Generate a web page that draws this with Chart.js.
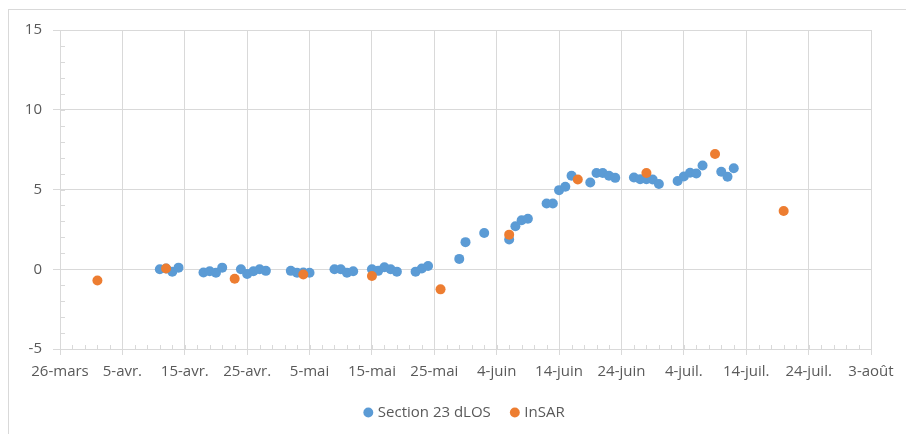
<!DOCTYPE html>
<html>
<head>
<meta charset="utf-8">
<script src="https://cdn.jsdelivr.net/npm/chart.js@4.4.0/dist/chart.umd.min.js"></script>
<style>
  html, body { margin: 0; padding: 0; background: #fff; overflow: hidden; }
  #wrap { position: relative; width: 906px; height: 434px; overflow: hidden; }
  #frame { position: absolute; left: 8px; top: 9px; width: 1000px; height: 1000px;
           border: 1px solid #d9d9d9; box-sizing: border-box; pointer-events: none; }
  canvas { position: absolute; left: 0; top: 0; }
</style>
</head>
<body>
<div id="wrap">
  <div id="frame"></div>
  <canvas id="chart" width="906" height="434"></canvas>
</div>
<script>
// Origin of the time axis (day 0)
const startDate = '2019-03-26';

// Labels every 10 days along the time axis
const tickLabels = ['26-mars', '5-avr.', '15-avr.', '25-avr.', '5-mai', '15-mai', '25-mai',
                    '4-juin', '14-juin', '24-juin', '4-juil.', '14-juil.', '24-juil.', '3-août'];

// Section 23 dLOS measurements
const dlosDates = [
  '2019-04-11', '2019-04-12', '2019-04-13', '2019-04-14',
  '2019-04-18', '2019-04-19', '2019-04-20', '2019-04-21',
  '2019-04-24', '2019-04-25', '2019-04-26', '2019-04-27', '2019-04-28',
  '2019-05-02', '2019-05-03', '2019-05-04', '2019-05-05',
  '2019-05-09', '2019-05-10', '2019-05-11', '2019-05-12',
  '2019-05-15', '2019-05-16', '2019-05-17', '2019-05-18', '2019-05-19',
  '2019-05-22', '2019-05-23', '2019-05-24',
  '2019-05-29', '2019-05-30', '2019-06-02',
  '2019-06-06', '2019-06-07', '2019-06-08', '2019-06-09',
  '2019-06-12', '2019-06-13', '2019-06-14', '2019-06-15', '2019-06-16',
  '2019-06-19', '2019-06-20', '2019-06-21', '2019-06-22', '2019-06-23',
  '2019-06-26', '2019-06-27', '2019-06-28', '2019-06-29', '2019-06-30',
  '2019-07-03', '2019-07-04', '2019-07-05', '2019-07-06', '2019-07-07',
  '2019-07-10', '2019-07-11', '2019-07-12'
];
const dlosValues = [
  0.0, 0.05, -0.15, 0.1,
  -0.2, -0.12, -0.22, 0.1,
  0.0, -0.3, -0.12, 0.0, -0.1,
  -0.1, -0.22, -0.2, -0.22,
  0.0, 0.0, -0.22, -0.12,
  0.0, -0.1, 0.13, 0.0, -0.15,
  -0.15, 0.05, 0.2,
  0.65, 1.7, 2.27,
  1.87, 2.7, 3.07, 3.17,
  4.12, 4.12, 4.96, 5.17, 5.86,
  5.44, 6.04, 6.04, 5.86, 5.73,
  5.75, 5.65, 5.65, 5.63, 5.35,
  5.53, 5.82, 6.05, 6.0, 6.5,
  6.11, 5.8, 6.33
];

// InSAR acquisitions
const insarDates = ['2019-04-01', '2019-04-12', '2019-04-23', '2019-05-04', '2019-05-15', '2019-05-26',
                    '2019-06-06', '2019-06-17', '2019-06-28', '2019-07-09', '2019-07-20'];
const insarValues = [-0.7, 0.05, -0.6, -0.33, -0.42, -1.26, 2.17, 5.63, 6.03, 7.23, 3.65];

const DAY = 86400000;
const dayOf = d => (Date.parse(d) - Date.parse(startDate)) / DAY;
const toPoints = (dates, values) => dates.map((d, i) => ({ x: dayOf(d), y: values[i] }));

const gridColor = '#d9d9d9';
const textColor = '#595959';
const fontFamily = '"Open Sans", "DejaVu Sans", sans-serif';

// Small inner ticks: every 1 unit on the value axis, every 2 days on the time axis
const minorTicks = {
  id: 'minorTicks',
  beforeDatasetsDraw(chart) {
    const { ctx, scales: { x, y } } = chart;
    ctx.save();
    ctx.strokeStyle = gridColor;
    ctx.lineWidth = 1;
    ctx.beginPath();
    for (let v = y.min; v <= y.max; v += 1) {
      const py = Math.round(y.getPixelForValue(v)) + 0.5;
      ctx.moveTo(x.left, py);
      ctx.lineTo(x.left + 5, py);
    }
    for (let d = x.min; d <= x.max; d += 2) {
      const px = Math.round(x.getPixelForValue(d)) + 0.5;
      ctx.moveTo(px, y.bottom);
      ctx.lineTo(px, y.bottom - 4);
    }
    ctx.stroke();
    ctx.restore();
  }
};

new Chart(document.getElementById('chart'), {
  type: 'scatter',
  data: {
    datasets: [
      {
        label: 'Section 23 dLOS',
        data: toPoints(dlosDates, dlosValues),
        backgroundColor: '#5b9bd5',
        borderColor: '#5b9bd5',
        borderWidth: 0,
        pointRadius: 5,
        order: 1
      },
      {
        label: 'InSAR',
        data: toPoints(insarDates, insarValues),
        backgroundColor: '#ed7d31',
        borderColor: '#ed7d31',
        borderWidth: 0,
        pointRadius: 5,
        order: 0
      }
    ]
  },
  options: {
    responsive: false,
    animation: false,
    devicePixelRatio: 1,
    layout: { padding: { top: 30, right: 35, bottom: 4, left: 0 } },
    plugins: {
      tooltip: { enabled: false },
      legend: {
        position: 'bottom',
        fullSize: false,
        labels: {
          usePointStyle: true,
          pointStyle: 'circle',
          boxWidth: 4,
          boxHeight: 7,
          padding: 22,
          color: textColor,
          font: { family: fontFamily, size: 15 },
          sort: (a, b) => a.datasetIndex - b.datasetIndex
        }
      }
    },
    scales: {
      x: {
        type: 'linear',
        min: 0,
        max: 130,
        afterFit(s) { s.height = 34; },
        ticks: {
          stepSize: 10,
          padding: 8,
          maxRotation: 0,
          autoSkip: false,
          color: textColor,
          font: { family: fontFamily, size: 15 },
          callback: v => tickLabels[Math.round(v / 10)]
        },
        grid: { color: gridColor, tickLength: 6, drawTicks: true },
        border: { color: gridColor, width: 1 }
      },
      y: {
        min: -5,
        max: 15,
        afterFit(s) { s.width = 60; },
        ticks: {
          stepSize: 5,
          padding: 11,
          color: textColor,
          font: { family: fontFamily, size: 15 }
        },
        grid: { color: gridColor, tickLength: 7, drawTicks: true },
        border: { color: gridColor, width: 1 }
      }
    }
  },
  plugins: [minorTicks]
});
</script>
</body>
</html>
